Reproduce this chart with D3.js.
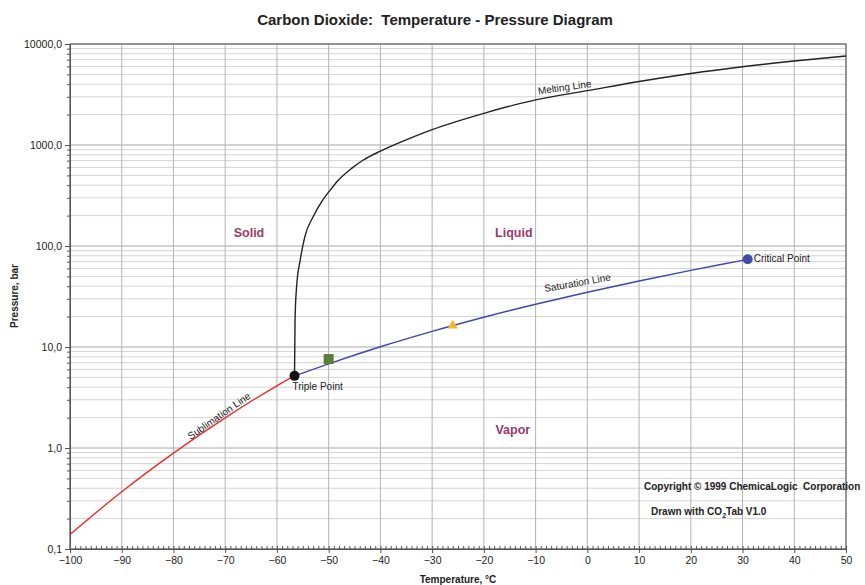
<!DOCTYPE html>
<html>
<head>
<meta charset="utf-8">
<script src="https://cdn.jsdelivr.net/npm/d3@7"></script>
<style>
  body { margin: 0; background: #fff; }
  text { font-family: "Liberation Sans", Arial, sans-serif; white-space: pre; }
</style>
</head>
<body>
<div id="chart"></div>
<script>
// Phase boundaries (T in °C, P in bar)
const sublimationT = [-100, -90, -80, -70, -60, -56.6];
const sublimationP = [0.139, 0.369, 0.891, 1.99, 4.13, 5.18];

const saturationT = [-56.6, -50, -40, -30, -20, -10, 0, 10, 20, 30, 31];
const saturationP = [5.18, 6.82, 10.05, 14.28, 19.7, 26.5, 34.85, 45.0, 57.3, 72.1, 73.8];

const meltingT = [-56.6, -56.5, -56.2, -55.5, -54.6, -53, -51.35, -49.7, -48.1, -45.5, -43.3, -40, -36.2, -30, -20, -10, 0, 10, 20, 30, 40, 50];
const meltingP = [5.18, 18.5, 39.5, 72.6, 124, 195, 275, 358, 450, 590, 710, 870, 1060, 1420, 2060, 2800, 3450, 4250, 5100, 5950, 6780, 7600];

const xTicks = [-100, -90, -80, -70, -60, -50, -40, -30, -20, -10, 0, 10, 20, 30, 40, 50];
const yTicks = [0.1, 1, 10, 100, 1000, 10000];

const triplePoint = [-56.6, 5.18];
const criticalPoint = [31, 73.8];
const squarePoint = [-50, 7.6];
const trianglePoint = [-26, 16.3];

const regions = [
  { name: "Solid", t: -65.4, p: 135 },
  { name: "Liquid", t: -14.2, p: 135 },
  { name: "Vapor", t: -14.4, p: 1.51 }
];

const width = 865, height = 585;
const margin = { top: 44, right: 19, bottom: 36, left: 70 };

const x = d3.scaleLinear().domain([-100, 50]).range([margin.left, width - margin.right]);
const y = d3.scaleLog().domain([0.1, 10000]).range([height - margin.bottom, margin.top]);

const svg = d3.select("#chart").append("svg")
  .attr("width", width)
  .attr("height", height);

// minor / major horizontal grid
const minorY = [];
yTicks.slice(0, -1).forEach(d => { for (let k = 2; k <= 9; k++) minorY.push(d * k); });

svg.append("g").selectAll("line").data(minorY).join("line")
  .attr("x1", margin.left).attr("x2", width - margin.right)
  .attr("y1", d => y(d)).attr("y2", d => y(d))
  .attr("stroke", "#d4d4d4").attr("stroke-width", 1);

svg.append("g").selectAll("line").data(yTicks).join("line")
  .attr("x1", margin.left).attr("x2", width - margin.right)
  .attr("y1", d => y(d)).attr("y2", d => y(d))
  .attr("stroke", "#a8a8a8").attr("stroke-width", 1);

svg.append("g").selectAll("line").data(xTicks).join("line")
  .attr("x1", d => x(d)).attr("x2", d => x(d))
  .attr("y1", margin.top).attr("y2", height - margin.bottom)
  .attr("stroke", "#b4b4b4").attr("stroke-width", 1);

// frame
svg.append("rect")
  .attr("x", margin.left).attr("y", margin.top)
  .attr("width", width - margin.left - margin.right)
  .attr("height", height - margin.top - margin.bottom)
  .attr("fill", "none").attr("stroke", "#555").attr("stroke-width", 1);

// x axis
const xAxis = svg.append("g")
  .attr("transform", `translate(0,${height - margin.bottom})`)
  .call(d3.axisBottom(x).tickValues(xTicks).tickSize(4).tickPadding(4).tickFormat(d3.format("d")));
xAxis.select(".domain").attr("stroke", "#555");
xAxis.selectAll(".tick line").attr("stroke", "#555");
xAxis.selectAll("text").attr("font-size", 10.5).attr("fill", "#222")
  .attr("font-family", "Liberation Sans, Arial, sans-serif");
svg.append("g")
  .attr("transform", `translate(0,${height - margin.bottom})`)
  .call(d3.axisBottom(x).tickValues(d3.range(-100, 51, 1)).tickSize(-3).tickFormat(""))
  .call(g => g.select(".domain").remove())
  .selectAll("line").attr("stroke", "#555");

// y axis
const yAxis = svg.append("g")
  .attr("transform", `translate(${margin.left},0)`)
  .call(d3.axisLeft(y).tickValues(yTicks).tickSize(5).tickPadding(3)
    .tickFormat(d => d3.format(".1f")(d).replace(".", ",")));
yAxis.select(".domain").attr("stroke", "#555");
yAxis.selectAll(".tick line").attr("stroke", "#555");
yAxis.selectAll("text").attr("font-size", 10.5).attr("fill", "#222")
  .attr("font-family", "Liberation Sans, Arial, sans-serif");
svg.append("g")
  .attr("transform", `translate(${margin.left},0)`)
  .call(d3.axisLeft(y).tickValues(minorY).tickSize(3).tickFormat(""))
  .call(g => g.select(".domain").remove())
  .selectAll("line").attr("stroke", "#555");

// curves
const line = d3.line().x(d => x(d[0])).y(d => y(d[1])).curve(d3.curveMonotoneX);
const pts = (ts, ps) => ts.map((t, i) => [t, ps[i]]);

svg.append("path").datum(pts(sublimationT, sublimationP))
  .attr("d", line).attr("fill", "none").attr("stroke", "#ee2b2b").attr("stroke-width", 1.4);
svg.append("path").datum(pts(saturationT, saturationP))
  .attr("d", line).attr("fill", "none").attr("stroke", "#3d47b0").attr("stroke-width", 1.4);
svg.append("path").datum(pts(meltingT, meltingP))
  .attr("d", line).attr("fill", "none").attr("stroke", "#222").attr("stroke-width", 1.4);

// markers
svg.append("rect")
  .attr("x", x(squarePoint[0]) - 5).attr("y", y(squarePoint[1]) - 5)
  .attr("width", 10).attr("height", 10).attr("fill", "#5c7d3a");
svg.append("path")
  .attr("transform", `translate(${x(trianglePoint[0])},${y(trianglePoint[1])})`)
  .attr("d", d3.symbol(d3.symbolTriangle, 45)).attr("fill", "#f2b824");
svg.append("circle")
  .attr("cx", x(triplePoint[0])).attr("cy", y(triplePoint[1])).attr("r", 5)
  .attr("fill", "#111");
svg.append("circle")
  .attr("cx", x(criticalPoint[0])).attr("cy", y(criticalPoint[1])).attr("r", 5)
  .attr("fill", "#3a4ea8");

// point labels
svg.append("text").attr("x", x(triplePoint[0]) - 2).attr("y", y(triplePoint[1]) + 14)
  .attr("font-size", 10).attr("fill", "#222").text("Triple Point");
svg.append("text").attr("x", x(criticalPoint[0]) + 6).attr("y", y(criticalPoint[1]) + 3)
  .attr("font-size", 10).attr("fill", "#222").text("Critical Point");

// curve labels
const curveLabel = (txt, t, p, angle) => svg.append("text")
  .attr("transform", `translate(${x(t)},${y(p)}) rotate(${angle})`)
  .attr("text-anchor", "middle").attr("font-size", 10).attr("fill", "#222").text(txt);
curveLabel("Melting Line", -4.3, 3450, -8);
curveLabel("Saturation Line", -1.8, 40, -10);
curveLabel("Sublimation Line", -70.8, 1.95, -35);

// region labels
svg.append("g").selectAll("text").data(regions).join("text")
  .attr("x", d => x(d.t)).attr("y", d => y(d.p) + 4)
  .attr("text-anchor", "middle").attr("font-size", 12.5).attr("font-weight", "bold")
  .attr("fill", "#9a3a6c").text(d => d.name);

// title and axis titles
svg.append("text").attr("x", 435).attr("y", 25).attr("text-anchor", "middle")
  .attr("font-size", 15).attr("font-weight", "bold").attr("fill", "#222")
  .text("Carbon Dioxide:  Temperature - Pressure Diagram");
svg.append("text").attr("x", 458).attr("y", 583).attr("text-anchor", "middle")
  .attr("font-size", 10).attr("font-weight", "bold").attr("fill", "#222")
  .text("Temperature, °C");
svg.append("text").attr("transform", "translate(18,296) rotate(-90)").attr("text-anchor", "middle")
  .attr("font-size", 10).attr("font-weight", "bold").attr("fill", "#222")
  .text("Pressure, bar");

// credits
svg.append("text").attr("x", 644).attr("y", 490)
  .attr("font-size", 10).attr("font-weight", "bold").attr("fill", "#222")
  .text("Copyright © 1999 ChemicaLogic  Corporation");
const drawn = svg.append("text").attr("x", 651).attr("y", 515)
  .attr("font-size", 10).attr("font-weight", "bold").attr("fill", "#222");
drawn.append("tspan").text("Drawn with CO");
drawn.append("tspan").attr("font-size", 7).attr("dy", 3).text("2");
drawn.append("tspan").attr("dy", -3).text("Tab V1.0");
</script>
</body>
</html>
